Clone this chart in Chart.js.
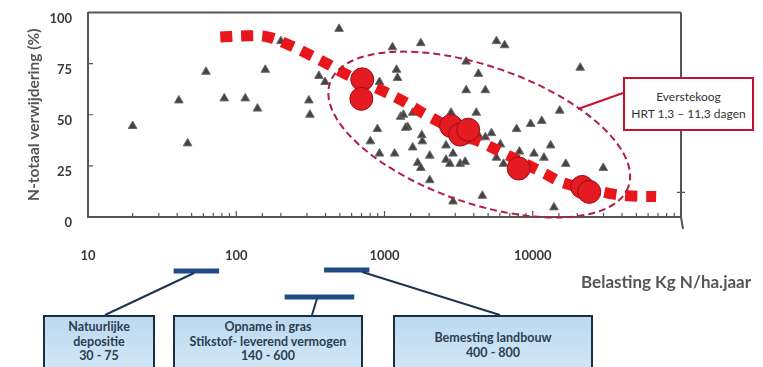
<!DOCTYPE html>
<html>
<head>
<meta charset="utf-8">
<script src="https://cdn.jsdelivr.net/npm/chart.js@4/dist/chart.umd.min.js"></script>
<style>
  html, body { margin: 0; padding: 0; background: #fff; }
  #wrap { position: relative; width: 763px; height: 367px; overflow: hidden; font-family: Lato, "Open Sans", sans-serif; }
  #wrap canvas { position: absolute; left: 0; top: 0; }
  .box { position: absolute; box-sizing: border-box; border: 2px solid #1c2e42; background: linear-gradient(#bcd9f0, #d3e8f7);
         color: #2c3e52; font-weight: 700; font-size: 12.5px; line-height: 14.5px; text-align: center; white-space: nowrap; }
  #callout { position: absolute; left: 623px; top: 77px; width: 131px; height: 54px; box-sizing: border-box;
             border: 2.5px solid #c8102e; background: #fff; color: #333; font-size: 12px; line-height: 17px;
             text-align: center; padding-top: 9px; white-space: nowrap; }
  #xtitle { position: absolute; left: 581px; top: 271px; font-size: 17px; font-weight: 700; color: #555; white-space: nowrap; }
</style>
</head>
<body>
<div id="wrap">
  <canvas id="c" width="763" height="367"></canvas>
  <div id="callout">Everstekoog<br>HRT 1,3 – 11,3 dagen</div>
  <div id="xtitle">Belasting Kg N/ha.jaar</div>
  <div class="box" style="left:43px;top:315px;width:112px;height:60px;padding-top:3px;">Natuurlijke<br>depositie<br>30 - 75</div>
  <div class="box" style="left:173px;top:315px;width:190px;height:60px;padding-top:3px;">Opname in gras<br>Stikstof- leverend vermogen<br>140 - 600</div>
  <div class="box" style="left:393px;top:315px;width:200px;height:60px;padding-top:14px;">Bemesting landbouw<br>400 - 800</div>
</div>
<script>
// triangles: literature data (belasting, verwijdering %)
const triX = [20, 41, 47, 62.5, 83, 115, 139, 157, 200, 309, 314, 361, 397, 494, 925, 1132, 1205, 1224, 1758,
  3556, 4300, 3556, 4790, 5690, 6460, 20900, 1285, 1340, 1433, 1550, 896, 803, 925, 1170, 1550, 1785, 1800,
  2020, 1675, 1758, 2020, 2900, 4570, 13900, 2810, 4160, 2600, 2900, 2600, 2760, 3240, 3500, 3670, 4790,
  5270, 5690, 6350, 7780, 9680, 11500, 15200, 8130, 10200, 11900, 13200, 16700, 29900, 3500, 3040, 4385,
  6050, 1390, 4280];
const triY = [44.5, 57, 36, 71, 58, 58, 53, 72, 86, 57, 50, 69, 66, 92, 66, 83, 72, 68, 85,
  76, 70, 62, 62, 86, 84, 73, 49, 50, 44, 51, 43, 37, 31, 31, 34, 40, 37,
  30, 26.5, 24, 18, 7.6, 10.4, 4.7, 51, 51, 35, 31, 28, 26, 26, 27, 37, 39,
  41, 29, 26, 43, 45.5, 47, 52, 32, 31, 29, 35, 26, 24, 45, 38, 39,
  35.5, 43.6, -5.5];

// Everstekoog measurements (big red dots)
const eveX = [708, 698, 2810, 3240, 3670, 8040, 21550, 24050];
const eveY = [67.3, 57.8, 44.5, 40.3, 42.7, 23.7, 14.7, 12.3];

// red dashed trend curve
const trendX = [78, 119, 165, 229, 299, 409, 543, 1016, 1390, 1900, 3500, 4790, 6450, 12250, 16200, 31400, 43700, 68000];
const trendY = [88, 88.6, 88, 84, 80, 75, 70, 61, 56, 50, 40, 35.5, 31, 21, 16.6, 11.8, 10.4, 10];

// load ranges shown below the axis
const rangeFrom = [37.8, 212, 391];
const rangeTo = [76.6, 625, 791];
const rangeAnchor = [52, 350, 708];

const xTickLabels = [10, 100, 1000, 10000];
const yTicks = [0, 25, 50, 75, 100];

function pts(xs, ys) { return xs.map((x, i) => ({ x: x, y: ys[i] })); }

// top/right frame, inward ticks, ellipse, callout line and range bars
const extras = {
  id: "extras",
  afterDraw(chart) {
    const ctx = chart.ctx;
    const xs = chart.scales.x, ys = chart.scales.y;
    const L = ys.right, R = xs.right;
    const T = ys.top, B = xs.top;
    ctx.save();
    ctx.setLineDash([]);
    ctx.strokeStyle = "#555";
    ctx.lineWidth = 2;
    ctx.beginPath();
    ctx.moveTo(L, T); ctx.lineTo(R, T);
    ctx.stroke();
    ctx.beginPath();
    ctx.moveTo(R, T); ctx.lineTo(R, B); ctx.lineTo(R + 2, B + 12);
    ctx.stroke();
    // x ticks (inward) and y ticks
    ctx.lineWidth = 1.2;
    ctx.beginPath();
    xs.ticks.forEach(t => {
      const p = xs.getPixelForValue(t.value);
      const major = Math.abs(Math.log10(t.value) % 1) < 1e-6;
      ctx.moveTo(p, B); ctx.lineTo(p, B - (major ? 6 : 4));
    });
    [25, 50, 75].forEach(v => {
      const p = ys.getPixelForValue(v);
      ctx.moveTo(L, p); ctx.lineTo(L + 5, p);
    });
    ctx.moveTo(R - 4, ys.getPixelForValue(12)); ctx.lineTo(R + 4, ys.getPixelForValue(12));
    ctx.stroke();
    // ellipse around Everstekoog
    const cx = xs.getPixelForValue(4355), cy = ys.getPixelForValue(40.3);
    ctx.strokeStyle = "#b0213f";
    ctx.lineWidth = 2;
    ctx.setLineDash([7, 4]);
    ctx.beginPath();
    ctx.ellipse(cx, cy, 158, 68.5, 19.2 * Math.PI / 180, 0, Math.PI * 2);
    ctx.stroke();
    ctx.setLineDash([]);
    // callout connector
    ctx.strokeStyle = "#c8102e";
    ctx.lineWidth = 2;
    ctx.beginPath();
    ctx.moveTo(623, 93); ctx.lineTo(578, 109);
    ctx.stroke();
    // range bars + connectors
    const barY = [271, 297, 270];
    const boxPt = [[105, 315], [312, 315], [500, 315]];
    for (let i = 0; i < rangeFrom.length; i++) {
      ctx.strokeStyle = "#1f4a85";
      ctx.lineWidth = 5;
      ctx.beginPath();
      ctx.moveTo(xs.getPixelForValue(rangeFrom[i]), barY[i]);
      ctx.lineTo(xs.getPixelForValue(rangeTo[i]), barY[i]);
      ctx.stroke();
      ctx.strokeStyle = "#1d3552";
      ctx.lineWidth = 2;
      ctx.beginPath();
      ctx.moveTo(xs.getPixelForValue(rangeAnchor[i]), barY[i] + 2);
      ctx.lineTo(boxPt[i][0], boxPt[i][1]);
      ctx.stroke();
    }
    ctx.restore();
  }
};

new Chart(document.getElementById("c"), {
  type: "scatter",
  data: {
    datasets: [
      {
        data: pts(eveX, eveY),
        order: 0,
        pointRadius: 11.5,
        pointBackgroundColor: "#e51b23",
        pointBorderColor: "#9a0c10",
        pointBorderWidth: 1
      },
      {
        data: pts(trendX, trendY),
        order: 1,
        showLine: true,
        borderColor: "#e8151b",
        borderWidth: 11,
        borderDash: [12, 9],
        borderCapStyle: "butt",
        tension: 0.4,
        pointRadius: 0
      },
      {
        data: pts(triX, triY),
        order: 2,
        clip: false,
        pointStyle: "triangle",
        pointRadius: 5,
        pointBackgroundColor: "#444",
        pointBorderColor: "#6a6a6a",
        pointBorderWidth: 1
      }
    ]
  },
  options: {
    responsive: false,
    animation: false,
    events: [],
    layout: { padding: { top: 7, right: 82, left: 0, bottom: 0 } },
    plugins: { legend: { display: false }, tooltip: { enabled: false } },
    scales: {
      x: {
        type: "logarithmic",
        min: 10,
        max: 100000,
        grid: { display: false },
        border: { display: true, color: "#555", width: 2 },
        afterFit(s) { s.height = 150; },
        ticks: {
          autoSkip: false,
          maxRotation: 0,
          padding: 23,
          color: "#3a3a3a",
          font: { family: "Lato", size: 13, weight: "bold" },
          callback(v) { return xTickLabels.includes(v) ? String(v) : ""; }
        }
      },
      y: {
        min: 0,
        max: 100,
        afterFit(s) { s.width = 88; s.paddingTop = 0; s.paddingBottom = 0; },
        afterBuildTicks(s) { s.ticks = yTicks.map(v => ({ value: v })); },
        grid: { display: false },
        border: { display: true, color: "#555", width: 2 },
        ticks: {
          padding: 8,
          labelOffset: 6,
          color: "#3a3a3a",
          font: { family: "Lato", size: 13, weight: "bold" }
        },
        title: {
          display: true,
          text: "N-totaal verwijdering (%)",
          color: "#555",
          padding: { top: 25, bottom: 0 },
          font: { family: "Lato", size: 15.5, weight: "bold" }
        }
      }
    }
  },
  plugins: [extras]
});
</script>
</body>
</html>
